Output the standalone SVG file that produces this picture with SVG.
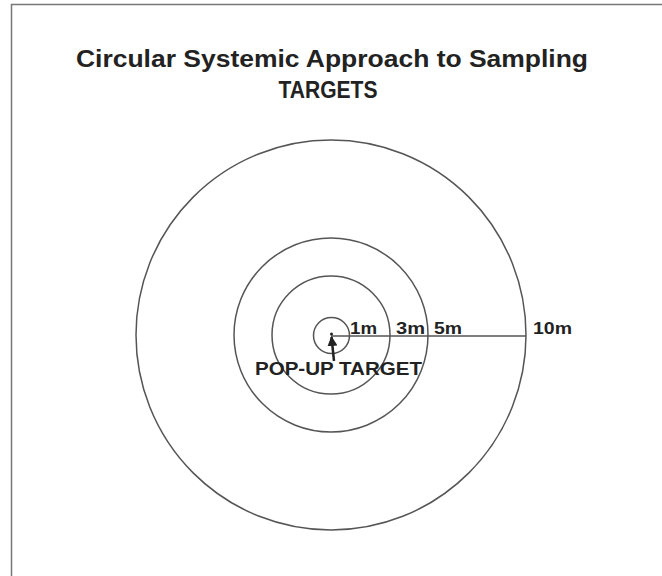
<svg xmlns="http://www.w3.org/2000/svg" width="662" height="576" viewBox="0 0 662 576">
<defs>
<style>
.ring{fill:none;stroke:#555;stroke-width:1.5}
.t{font-family:"Liberation Sans",Arial,sans-serif;font-weight:bold;fill:#222}
.lbl{font-size:16px}
</style>
<marker id="ah" viewBox="0 0 10 10" refX="9" refY="5" markerWidth="4" markerHeight="4" orient="auto">
<path d="M0,0 L10,5 L0,10 z" fill="#222"/>
</marker>
</defs>
<rect x="0" y="0" width="662" height="576" fill="#fff"/>
<rect x="11.5" y="4.5" width="680" height="600" fill="none" stroke="#777" stroke-width="1.5"/>
<g id="title">
<text class="t" x="332" y="67" font-size="23" text-anchor="middle" textLength="512" lengthAdjust="spacingAndGlyphs">Circular Systemic Approach to Sampling</text>
<text class="t" x="328" y="98" font-size="23" text-anchor="middle" textLength="99" lengthAdjust="spacingAndGlyphs">TARGETS</text>
</g>
<g id="ring-10m"><circle class="ring" cx="331" cy="335" r="195"/></g>
<g id="ring-5m"><circle class="ring" cx="331" cy="335" r="97"/></g>
<g id="ring-3m"><circle class="ring" cx="331" cy="335" r="59"/></g>
<g id="ring-1m"><circle class="ring" cx="331.5" cy="335.5" r="18"/></g>
<g id="connectors">
<line x1="331" y1="336" x2="526" y2="336" stroke="#555" stroke-width="1.5"/>
<line x1="334" y1="361" x2="331.5" y2="337" stroke="#222" stroke-width="2.5" marker-end="url(#ah)"/>
</g>
<g id="center"><circle cx="331.5" cy="334" r="1.5" fill="#222"/></g>
<g id="labels">
<text class="t lbl" x="350" y="334" textLength="27" lengthAdjust="spacingAndGlyphs">1m</text>
<text class="t lbl" x="396" y="334" textLength="29" lengthAdjust="spacingAndGlyphs">3m</text>
<text class="t lbl" x="434" y="334" textLength="28" lengthAdjust="spacingAndGlyphs">5m</text>
<text class="t lbl" x="533" y="334" textLength="39" lengthAdjust="spacingAndGlyphs">10m</text>
<text class="t" x="255" y="375" font-size="18" textLength="167" lengthAdjust="spacingAndGlyphs">POP-UP TARGET</text>
</g>
</svg>
